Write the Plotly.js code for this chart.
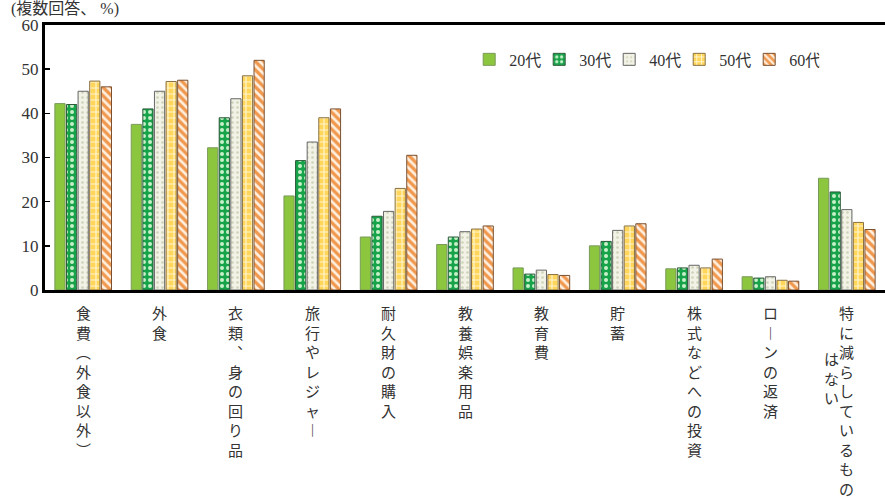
<!DOCTYPE html>
<html><head><meta charset="utf-8">
<script src="https://cdn.plot.ly/plotly-3.0.1.min.js"></script>
<style>body{margin:0;background:#fff}#chart{width:885px;height:500px}</style>
</head><body><div id="chart"></div>
<script>
const categories = ["食費（外食以外）","外食","衣類、身の回り品","旅行やレジャー","耐久財の購入","教養娯楽用品","教育費","貯蓄","株式などへの投資","ローンの返済","特に減らしているものはない"];
const vertLabels = [
  ["食","費","︵","外","食","以","外","︶"],
  ["外","食"],
  ["衣","類","︑","身","の","回","り","品"],
  ["旅","行","や","レ","ジ","ャ","︱"],
  ["耐","久","財","の","購","入"],
  ["教","養","娯","楽","用","品"],
  ["教","育","費"],
  ["貯","蓄"],
  ["株","式","な","ど","へ","の","投","資"],
  ["ロ","︱","ン","の","返","済"],
  ["特","に","減","ら","し","て","い","る","も","の"]
];
const extraLabel = ["は","な","い"];
const seriesNames = ["20代","30代","40代","50代","60代"];
const v20 = [42.2, 37.5, 32.2, 21.3, 12.0, 10.3, 5.0, 10.0, 4.8, 3.0, 25.3];
const v30 = [42.0, 41.0, 39.0, 29.3, 16.7, 12.0, 3.6, 11.0, 5.0, 2.7, 22.2];
const v40 = [45.0, 45.0, 43.3, 33.5, 17.8, 13.2, 4.5, 13.5, 5.6, 3.0, 18.2];
const v50 = [47.3, 47.2, 48.5, 39.0, 23.0, 13.8, 3.5, 14.5, 5.0, 2.2, 15.3];
const v60 = [46.0, 47.5, 52.0, 41.0, 30.5, 14.5, 3.3, 15.0, 7.0, 2.0, 13.7];
const yTicks = [0,10,20,30,40,50,60];

const styles = [
  {color:"#8cc63f", line:"#7a9a5a", pattern:null},
  {color:"#17a34a", line:"#2d5a3a", pattern:{shape:".", bgcolor:"#17a34a", fgcolor:"#c8f0c8", size:6, solidity:0.35}},
  {color:"#f2f3e6", line:"#666666", pattern:{shape:".", bgcolor:"#f2f3e6", fgcolor:"#cfd3b8", size:5, solidity:0.2}},
  {color:"#ffd55a", line:"#8a7040", pattern:{shape:"+", bgcolor:"#ffd55a", fgcolor:"#fff6d0", size:6, solidity:0.35}},
  {color:"#f0984e", line:"#7a5030", pattern:{shape:"\\", bgcolor:"#f0984e", fgcolor:"#fff0e0", size:6, solidity:0.45}}
];
const vals = [v20,v30,v40,v50,v60];
const traces = vals.map((v,i)=>{
  const m = {color:styles[i].color, line:{color:styles[i].line, width:1}};
  if (styles[i].pattern) m.pattern = Object.assign({fillmode:"replace"}, styles[i].pattern);
  return {type:"bar", name:seriesNames[i], x:categories, y:v, marker:m, hoverinfo:"skip"};
});

const font = "Liberation Serif, 'Noto Sans CJK JP', serif";
const labelFont = {family:"'Noto Sans CJK JP', sans-serif", size:15, color:"#333"};
const annotations = categories.map((c,i)=>({
  x:c, xref:"x", y:0, yref:"paper", yshift:-10, yanchor:"top", xanchor:"center",
  text: vertLabels[i].join("<br>"), showarrow:false, align:"center", font:labelFont
}));
annotations.push({x:categories[10], xref:"x", xshift:-15, y:0, yref:"paper", yshift:-56, yanchor:"top", xanchor:"center",
  text: extraLabel.join("<br>"), showarrow:false, font:labelFont});
annotations.push({x:0, xref:"paper", xanchor:"left", xshift:-36, y:1, yref:"paper", yanchor:"bottom", yshift:5,
  text:"(複数回答、 %)", showarrow:false, font:{family:font, size:16, color:"#333"}});

const layout = {
  width:885, height:500,
  margin:{l:45, r:0, t:25, b:210, autoexpand:false},
  paper_bgcolor:"#fff", plot_bgcolor:"#fff",
  barmode:"group", bargap:0.24, bargroupgap:0.12,
  showlegend:true,
  legend:{orientation:"h", x:0.505, y:0.87, xanchor:"left", yanchor:"middle",
    font:{family:font, size:16, color:"#333"}, itemwidth:30, entrywidth:25, entrywidthmode:"pixels",
    bgcolor:"rgba(0,0,0,0)", traceorder:"normal", itemclick:false},
  xaxis:{showticklabels:false, ticks:"", showline:true, linecolor:"#000", linewidth:3, mirror:true,
    showgrid:false, zeroline:false, fixedrange:true},
  yaxis:{range:[0,60], tickvals:yTicks, ticks:"inside", ticklen:5, tickwidth:1.5, tickcolor:"#000",
    showline:true, linecolor:"#000", linewidth:3, showgrid:false, zeroline:false,
    tickfont:{family:font, size:17, color:"#333"}, fixedrange:true},
  annotations:annotations
};
Plotly.newPlot("chart", traces, layout, {staticPlot:true});
</script></body></html>
